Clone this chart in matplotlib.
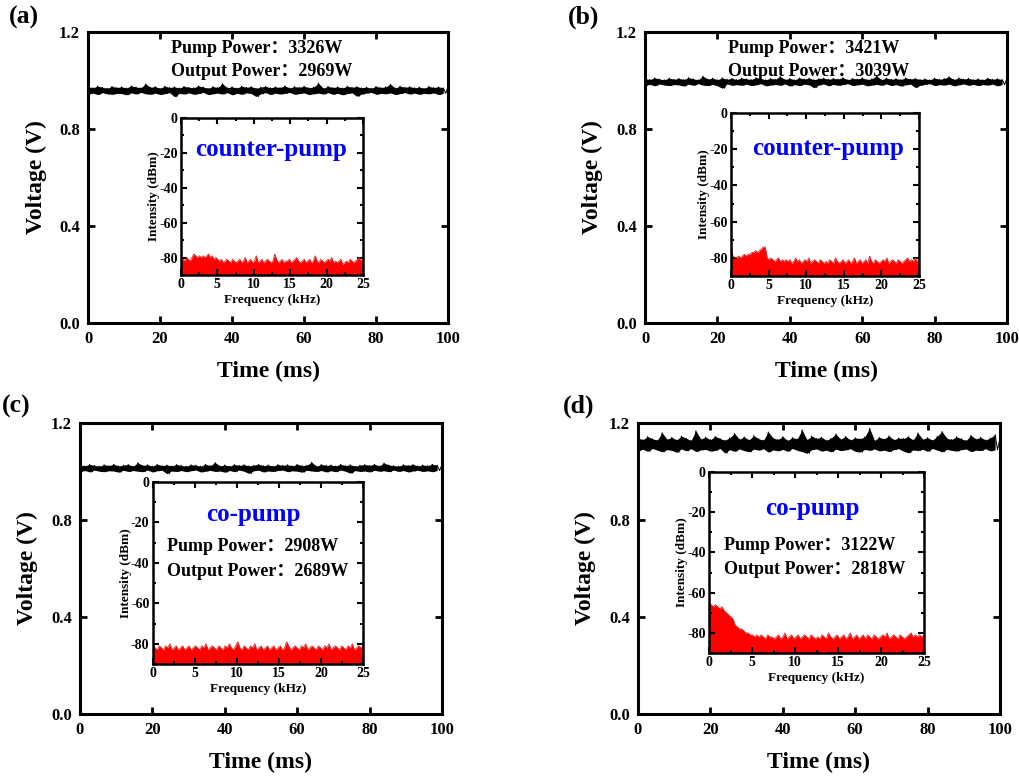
import numpy as np
import matplotlib.pyplot as plt

plt.rcParams['font.family'] = ['Liberation Serif', 'Noto Sans CJK SC']
plt.rcParams['font.weight'] = 'bold'
plt.rcParams['axes.labelweight'] = 'bold'
plt.rcParams['axes.unicode_minus'] = False

# photodiode voltage traces over 0-100 ms, in mV
# (oscilloscope peak-detect style: samples alternate max, min)
volt_a_mv = [975, 944, 970, 948, 977, 942, 972, 950, 968, 945, 976, 943, 971, 947, 974,
             946, 969, 941, 978, 949, 973, 944, 970, 951, 986, 945, 972, 943, 975, 948,
             968, 942, 977, 946, 971, 950, 974, 933, 969, 947, 976, 944, 972, 949, 970,
             943, 978, 946, 973, 951, 968, 942, 975, 945, 971, 948, 987, 944, 970, 950,
             974, 941, 969, 947, 977, 943, 972, 949, 975, 946, 968, 934, 973, 945, 976,
             950, 970, 942, 974, 948, 971, 944, 978, 947, 969, 951, 975, 943, 972, 946,
             977, 949, 970, 942, 973, 945, 989, 948, 968, 944, 976, 950, 971, 943, 974,
             947, 969, 941, 977, 946, 972, 949, 975, 935, 970, 944, 973, 948, 968, 951,
             976, 943, 971, 947, 974, 945, 985, 949, 969, 942, 977, 946, 972, 950, 975,
             944, 970, 948, 973, 943, 968, 947, 976, 945, 971, 949, 974, 942, 970, 947, 975]
volt_b_mv = [1008, 980, 1004, 984, 1011, 978, 1006, 986, 1003, 981, 1010, 979, 1005, 983, 1009,
             982, 1004, 977, 1012, 985, 1007, 980, 1003, 987, 1018, 981, 1006, 979, 1010, 984,
             1003, 978, 1011, 968, 1005, 986, 1009, 980, 1004, 983, 1010, 980, 1007, 985, 1004,
             979, 1012, 982, 1008, 987, 1003, 978, 1009, 981, 1005, 984, 1017, 980, 1004, 986,
             1009, 977, 1003, 983, 1011, 979, 1006, 985, 1010, 982, 1003, 970, 1008, 981, 1010,
             986, 1005, 978, 1009, 984, 1006, 980, 1012, 983, 1003, 987, 1009, 979, 1006, 982,
             1011, 985, 1004, 978, 1007, 981, 1019, 984, 1003, 980, 1010, 986, 1005, 979, 1008,
             983, 1004, 977, 1011, 982, 1006, 985, 1009, 971, 1004, 980, 1007, 984, 1003, 987,
             1010, 979, 1005, 983, 1008, 981, 1016, 985, 1004, 978, 1011, 982, 1006, 986, 1009,
             980, 1004, 984, 1007, 979, 1003, 983, 1010, 981, 1005, 985, 1008, 978, 1004, 983, 1008]
volt_c_mv = [1027, 1000, 1023, 1004, 1029, 998, 1025, 1006, 1022, 1001, 1028, 999, 1024, 1003, 1030,
             1002, 1023, 997, 1026, 1005, 1029, 1000, 1022, 1004, 1036, 1001, 1025, 999, 1028, 1006,
             1022, 998, 1030, 1003, 1024, 1005, 1027, 991, 1023, 1002, 1029, 1000, 1025, 1004, 1022,
             999, 1028, 1003, 1026, 1006, 1022, 998, 1030, 1001, 1024, 1005, 1037, 1000, 1023, 1002,
             1027, 997, 1022, 1004, 1029, 999, 1025, 1006, 1028, 1001, 1023, 992, 1026, 1003, 1030,
             1005, 1024, 998, 1027, 1002, 1022, 1000, 1029, 1004, 1025, 1006, 1028, 999, 1023, 1003,
             1030, 1001, 1024, 997, 1026, 1005, 1038, 1002, 1022, 1000, 1029, 1004, 1025, 998, 1027,
             1003, 1023, 999, 1030, 1006, 1024, 1001, 1028, 993, 1022, 1004, 1026, 1000, 1029, 1002,
             1025, 998, 1030, 1005, 1023, 1001, 1035, 1003, 1027, 999, 1024, 1006, 1022, 1000, 1028,
             1004, 1025, 998, 1029, 1002, 1023, 1005, 1027, 1000, 1024, 1003, 1030, 999, 1026, 1004, 1027]
volt_d_mv = [1138, 1086, 1131, 1092, 1144, 1083, 1135, 1095, 1129, 1088, 1160, 1081, 1133, 1090, 1141,
             1087, 1130, 1079, 1146, 1093, 1137, 1085, 1128, 1094, 1168, 1082, 1134, 1089, 1142, 1091,
             1131, 1084, 1145, 1087, 1136, 1095, 1129, 1076, 1139, 1090, 1157, 1083, 1133, 1093, 1143,
             1086, 1130, 1081, 1148, 1092, 1135, 1088, 1129, 1094, 1163, 1080, 1138, 1089, 1132, 1085,
             1144, 1091, 1128, 1083, 1140, 1095, 1134, 1087, 1172, 1082, 1131, 1075, 1146, 1090, 1136,
             1093, 1142, 1084, 1129, 1088, 1137, 1081, 1155, 1092, 1133, 1086, 1145, 1089, 1130, 1094,
             1139, 1083, 1135, 1080, 1143, 1091, 1178, 1087, 1128, 1093, 1141, 1085, 1134, 1088, 1147,
             1082, 1131, 1090, 1138, 1094, 1136, 1084, 1144, 1077, 1130, 1089, 1159, 1086, 1133, 1092,
             1140, 1083, 1129, 1095, 1145, 1088, 1165, 1081, 1137, 1091, 1132, 1087, 1143, 1084, 1135,
             1090, 1128, 1093, 1149, 1082, 1134, 1088, 1141, 1086, 1130, 1094, 1138, 1085, 1152, 1089, 1136]

# RF spectra 0-25 kHz, in dBm
spec_a = [-79, -81, -82, -80, -81, -82, -80, -78, -79, -80,
          -79, -80, -79, -80, -79, -78, -80, -79, -81, -80,
          -81, -82, -81, -83, -82, -81, -82, -83, -81, -82,
          -83, -82, -81, -83, -82, -80, -83, -82, -81, -83,
          -82, -79, -83, -82, -81, -83, -82, -81, -82, -83,
          -82, -78, -81, -83, -82, -81, -83, -82, -82, -81,
          -83, -82, -81, -80, -82, -83, -82, -81, -83, -82,
          -81, -83, -82, -79, -82, -83, -81, -82, -83, -82,
          -81, -82, -80, -83, -82, -83, -82, -81, -84, -83,
          -82, -83, -81, -82, -83, -82, -81, -80, -82, -81]
spec_b = [-73, -79, -80, -80, -79, -80, -79, -78, -79, -78,
          -78, -77, -77, -76, -77, -76, -75, -74, -74, -80,
          -81, -80, -81, -82, -81, -80, -82, -81, -82, -81,
          -82, -81, -83, -82, -80, -82, -81, -83, -82, -81,
          -82, -80, -83, -82, -81, -82, -83, -81, -82, -83,
          -82, -83, -81, -82, -83, -80, -82, -83, -82, -81,
          -83, -82, -81, -83, -82, -80, -83, -82, -81, -83,
          -82, -81, -83, -79, -82, -83, -81, -82, -83, -82,
          -81, -82, -80, -83, -82, -81, -82, -83, -81, -82,
          -83, -82, -81, -80, -82, -81, -82, -80, -82, -81]
spec_c = [-80, -82, -83, -81, -82, -83, -81, -82, -80, -83,
          -82, -81, -83, -82, -81, -83, -82, -81, -83, -82,
          -81, -82, -83, -81, -82, -80, -83, -82, -81, -82,
          -83, -81, -82, -83, -81, -82, -80, -82, -83, -81,
          -79, -82, -83, -81, -82, -83, -81, -82, -80, -83,
          -82, -81, -83, -82, -81, -83, -82, -81, -83, -82,
          -81, -83, -82, -79, -81, -83, -82, -81, -82, -83,
          -81, -82, -80, -83, -82, -81, -82, -83, -81, -82,
          -83, -81, -82, -80, -83, -82, -81, -82, -83, -81,
          -82, -83, -81, -82, -80, -83, -82, -81, -82, -81]
spec_d = [-65, -66, -67, -66, -67, -68, -67, -69, -70, -71,
          -72, -73, -76, -77, -78, -78, -79, -80, -80, -81,
          -81, -82, -81, -82, -81, -82, -83, -81, -82, -82,
          -83, -82, -81, -83, -82, -80, -83, -82, -81, -83,
          -82, -81, -83, -82, -81, -82, -83, -81, -82, -83,
          -82, -83, -81, -82, -83, -80, -82, -83, -82, -81,
          -83, -82, -81, -83, -82, -80, -83, -82, -81, -83,
          -82, -81, -83, -81, -82, -83, -81, -82, -83, -82,
          -81, -82, -80, -83, -82, -81, -82, -83, -81, -82,
          -83, -82, -81, -80, -82, -81, -82, -81, -82, -81]

labels = ['(a)', '(b)', '(c)', '(d)']
modes = ['counter-pump', 'counter-pump', 'co-pump', 'co-pump']
pump_w = [3326, 3421, 2908, 3122]
output_w = [2969, 3039, 2689, 2818]

# [left, bottom, width, height] in figure fraction
main_rects = [[0.0864, 0.5843, 0.3533, 0.3745], [0.6330, 0.5843, 0.3552, 0.3745],
              [0.0785, 0.0811, 0.3552, 0.3745], [0.6261, 0.0811, 0.3552, 0.3745]]
inset_rects = [[0.1776, 0.6461, 0.1786, 0.2021], [0.7174, 0.6448, 0.1845, 0.2098],
               [0.1501, 0.1454, 0.2061, 0.2342], [0.6958, 0.1596, 0.2110, 0.2329]]
label_pos = [(0.009, 0.993), (0.557, 0.993), (0.002, 0.492), (0.552, 0.492)]
mode_pos = [(0.495, 0.80), (0.516, 0.78), (0.48, 0.82), (0.48, 0.796)]
power_pos = [(0.067, 0.645, 0.51), (0.07, 0.593, 0.462)]

volts = [volt_a_mv, volt_b_mv, volt_c_mv, volt_d_mv]
specs = [spec_a, spec_b, spec_c, spec_d]

fig = plt.figure(figsize=(10.19, 7.77), dpi=100)

for k in range(4):
    ax = fig.add_axes(main_rects[k])
    v = np.array(volts[k]) / 1000.0
    t = np.linspace(0, 100, len(v))
    # dense trace: fill between the max/min samples, then the trace itself
    hi, lo = v[0::2], v[1::2]
    n = min(len(hi), len(lo))
    ax.fill_between(t[0:2 * n:2], lo[:n], hi[:n], color='black', lw=0)
    ax.plot(t, v, color='black', lw=0.7)
    ax.set_xlim(0, 100)
    ax.set_ylim(0, 1.2)
    ax.set_xticks([0, 20, 40, 60, 80, 100])
    ax.set_yticks([0.0, 0.4, 0.8, 1.2])
    ax.set_yticklabels(['0.0', '0.4', '0.8', '1.2'])
    ax.tick_params(direction='in', top=True, right=True, length=5, width=2,
                   labelsize=12, pad=6)
    for s in ax.spines.values():
        s.set_linewidth(2.2)
    ax.set_xlabel('Time (ms)', fontsize=17)
    ax.set_ylabel('Voltage (V)', fontsize=17)
    ax.xaxis.set_label_coords(0.5, -0.13)
    ax.yaxis.set_label_coords(-0.115, 0.5)
    fig.text(label_pos[k][0], label_pos[k][1], labels[k], fontsize=18.5,
             fontweight='bold', va='top', ha='left')

    if k < 2:
        ax.text(23, 1.134, 'Pump Power：%dW' % pump_w[k], fontsize=13, va='center')
        ax.text(23, 1.038, 'Output Power：%dW' % output_w[k], fontsize=13, va='center')

    ins = fig.add_axes(inset_rects[k])
    sp = np.array(specs[k])
    f = np.linspace(0, 25, len(sp))
    ins.fill_between(f, -90, sp, color='red', lw=0)
    ins.plot(f, sp, color='#d42a2a', lw=0.6)
    ins.set_xlim(0, 25)
    ins.set_ylim(-90, 0)
    ins.set_xticks([0, 5, 10, 15, 20, 25])
    ins.set_yticks([0, -20, -40, -60, -80])
    ins.set_yticks([-10, -30, -50, -70, -90], minor=True)
    ins.set_xticks([2.5, 7.5, 12.5, 17.5, 22.5], minor=True)
    ins.tick_params(which='both', direction='in', top=True, right=True, width=1.5,
                    labelsize=10, pad=2.5)
    ins.tick_params(which='major', length=4)
    ins.tick_params(which='minor', length=2.5)
    for s in ins.spines.values():
        s.set_linewidth(1.8)
    ins.set_xlabel('Frequency (kHz)', fontsize=9.5, labelpad=2)
    ins.set_ylabel('Intensity (dBm)', fontsize=9.5, labelpad=-1)
    ins.text(mode_pos[k][0], mode_pos[k][1], modes[k], color='blue', fontsize=18,
             fontweight='bold', ha='center', va='center', transform=ins.transAxes)
    if k >= 2:
        px, py1, py2 = power_pos[k - 2]
        ins.text(px, py1, 'Pump Power：%dW' % pump_w[k], fontsize=13,
                 va='center', transform=ins.transAxes)
        ins.text(px, py2, 'Output Power：%dW' % output_w[k], fontsize=13,
                 va='center', transform=ins.transAxes)

fig.savefig('out.png', dpi=100)
